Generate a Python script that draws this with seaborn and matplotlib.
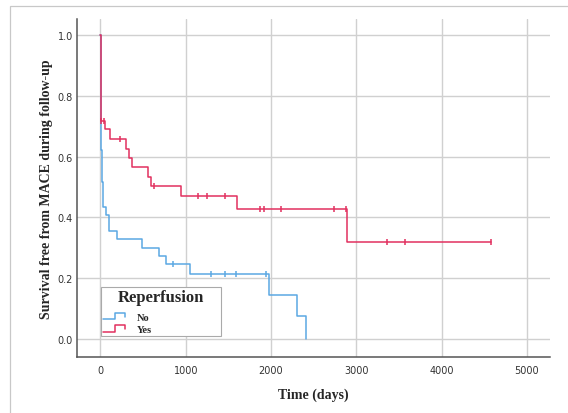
import matplotlib
matplotlib.use("Agg")
import matplotlib.pyplot as plt
import numpy as np
import pandas as pd
import seaborn as sns
from matplotlib.legend_handler import HandlerBase
from matplotlib.lines import Line2D
from matplotlib.patches import Rectangle

# ── Data ───────────────────────────────────────────────────────────────────────
yes_times = [0, 8, 50, 117, 297, 332, 372, 560, 587, 946, 1596, 2895, 4585]
yes_surv = [1.0, 0.716, 0.689, 0.659, 0.626, 0.596, 0.564, 0.533, 0.503,
            0.470, 0.426, 0.320, 0.320]
yes_cens_t = [8, 38, 227, 626, 1139, 1252, 1455, 1870, 1917, 2113, 2739,
              2880, 3357, 3568, 4585]
yes_cens_s = [0.716, 0.716, 0.659, 0.503, 0.470, 0.470, 0.470, 0.426, 0.426,
              0.426, 0.426, 0.426, 0.320, 0.320, 0.320]

no_times = [0, 4, 8, 12, 16, 22, 30, 60, 97, 196, 489, 692, 774, 1048,
            1976, 2308, 2406]
no_surv = [1.0, 0.80, 0.70, 0.62, 0.54, 0.517, 0.435, 0.408, 0.355, 0.328,
           0.300, 0.274, 0.246, 0.215, 0.145, 0.076, 0.0]
no_cens_t = [852, 1291, 1459, 1593, 1945]
no_cens_s = [0.246, 0.215, 0.215, 0.215, 0.215]

groups = ["No", "Yes"]
colors = {"No": "#5ba8e3", "Yes": "#e2305f"}

curves = pd.concat([
    pd.DataFrame({"time": no_times, "surv": no_surv, "group": "No"}),
    pd.DataFrame({"time": yes_times, "surv": yes_surv, "group": "Yes"}),
], ignore_index=True)
censored = pd.concat([
    pd.DataFrame({"time": no_cens_t, "surv": no_cens_s, "group": "No"}),
    pd.DataFrame({"time": yes_cens_t, "surv": yes_cens_s, "group": "Yes"}),
], ignore_index=True)

SERIF = ["Liberation Serif", "DejaVu Serif"]


class StepHandler(HandlerBase):
    """Legend handle drawn as a small step, like SPSS survival plots."""

    def create_artists(self, legend, orig_handle, xdescent, ydescent,
                       width, height, fontsize, trans):
        x0, x1 = -xdescent, -xdescent + width
        xm = x0 + width * 0.55
        lo, hi = -ydescent + height * 0.05, -ydescent + height * 0.95
        mid = lo + (hi - lo) * 0.35
        line = Line2D([x0, xm, xm, x1, x1], [lo, lo, hi, hi, mid],
                      color=orig_handle.get_color(), lw=1.1, transform=trans)
        return [line]


# ── Plot ───────────────────────────────────────────────────────────────────────
sns.set_style("white")
fig = plt.figure(figsize=(5.68, 4.14), dpi=100)
ax = fig.add_axes([0.1356, 0.135, 0.968 - 0.1356, 0.952 - 0.135])

# light frame around the chart area, as in the export
fig.patches.append(Rectangle((10 / 568, -0.1), 1.2, (414 - 7) / 414 + 0.1,
                             transform=fig.transFigure, fill=False,
                             edgecolor="#c8c8c8", lw=0.9, zorder=0))

ax.grid(True, color="#d0d0d0", lw=1.0, zorder=0)
ax.set_axisbelow(True)

for g in groups:
    sub = curves[curves["group"] == g]
    sns.lineplot(data=sub, x="time", y="surv", ax=ax, color=colors[g],
                 estimator=None, sort=False, drawstyle="steps-post",
                 lw=1.1, legend=False, zorder=3)
    cs = censored[censored["group"] == g]
    sns.scatterplot(data=cs, x="time", y="surv", ax=ax, color=colors[g],
                    marker="|", s=22, linewidth=1.1, legend=False, zorder=4)

ax.set_xlim(-275, 5270)
ax.set_ylim(-0.06, 1.053)
ax.set_xticks([0, 1000, 2000, 3000, 4000, 5000])
ax.set_yticks([0.0, 0.2, 0.4, 0.6, 0.8, 1.0])
ax.set_yticklabels([f"{v:.1f}" for v in ax.get_yticks()])
ax.tick_params(axis="both", labelsize=7, colors="#333333", length=0)
ax.tick_params(axis="y", pad=3)
ax.tick_params(axis="x", pad=6)

for side in ["top", "right"]:
    ax.spines[side].set_visible(False)
for side in ["left", "bottom"]:
    ax.spines[side].set_color("#555555")
    ax.spines[side].set_linewidth(1.1)

ax.set_xlabel("Time (days)", family=SERIF, fontsize=10, fontweight="bold",
              labelpad=9)
ax.set_ylabel("Survival free from MACE during follow-up", family=SERIF,
              fontsize=10, fontweight="bold", labelpad=3)

handles = [Line2D([], [], color=colors[g]) for g in groups]
leg = ax.legend(handles, groups, title="Reperfusion", loc="lower left",
                bbox_to_anchor=(0.051, 0.062, 0.253, 0.157), mode="expand",
                fancybox=False, framealpha=1,
                edgecolor="#aaaaaa", handler_map={Line2D: StepHandler()},
                prop={"family": SERIF, "weight": "bold", "size": 7.5},
                handlelength=2.1, handletextpad=1.1, labelspacing=0.3,
                borderpad=0.2, borderaxespad=0, alignment="center")
leg.get_title().set_fontproperties({"family": SERIF, "weight": "bold",
                                    "size": 12})
leg._legend_box.sep = 5
leg.get_frame().set_linewidth(0.8)

fig.savefig("out.png", dpi=100)
plt.close(fig)
